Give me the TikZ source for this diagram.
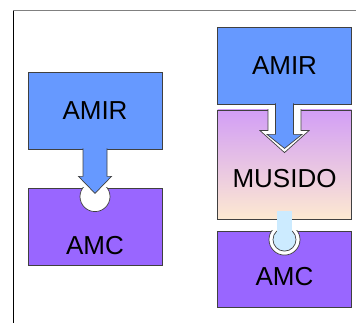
\documentclass[tikz,border=0pt]{standalone}
\usepackage{fontspec}
\setmainfont{Liberation Sans}
\usetikzlibrary{calc}

\definecolor{amirblue}{HTML}{6699FF}
\definecolor{amcpurple}{HTML}{9966FF}
\definecolor{musidotop}{HTML}{D29EF6}
\definecolor{musidobot}{HTML}{FDE9D1}
\definecolor{plugblue}{HTML}{CCEBFF}
\definecolor{edge}{HTML}{404040}

\begin{document}
\begin{tikzpicture}[x = 1pt, y = -1pt,
		block/.style = {draw = edge, line width = 0.8pt, minimum width = 134pt, inner sep = 0pt},
		tag/.style = {font = \fontsize{26}{26}\selectfont},
		shape line/.style = {draw = edge, line width = 0.7pt}]
			\useasboundingbox (0,0) rectangle (356,323);

			% frame
			\draw [gray, line width = 1pt] (13,11) -- (356,11);
			\draw [black, line width = 1pt] (13,11) -- (13,323);

			% left: AMIR straight onto AMC
			\node [block, fill = amirblue, minimum height = 77pt, tag] (amirL) at (95,110.5) {AMIR};
			\node [block, fill = amcpurple, minimum height = 77pt, label = {[tag, yshift = -19.5pt]center:AMC}] (amcL) at (95,226.5) {};

			\begin{scope}
				\clip (amcL.north west) rectangle (amcL.south east);
				\filldraw [fill = white, shape line] ($(amcL.north)+(0,9)$) circle (15pt);
			\end{scope}

			\begin{scope}[shift = {(amirL.south)}]
				\filldraw [fill = amirblue, shape line] (-12,-1) -- (-12,27) -- (-16.5,27) -- (0,44) -- (16.5,27) -- (12,27) -- (12,-1);
			\end{scope}

			% right: AMIR through MUSIDO onto AMC
			\node [block, fill = amirblue, minimum height = 77pt, tag] (amirR) at (284.5,65.5) {AMIR};
			\node [block, top color = musidotop, bottom color = musidobot, minimum height = 109pt, label = {[tag, yshift = -14.5pt]center:MUSIDO}] (musido) at (284.5,164.5) {};
			\node [block, fill = amcpurple, minimum height = 76pt, label = {[tag, yshift = -8pt]center:AMC}] (amcR) at (284.5,269) {};

			\begin{scope}[shift = {(musido.north)}]
				\filldraw [fill = white, shape line] (-16.5,-0.5) -- (-16.5,21) -- (-24.5,21) -- (0,43) -- (24.5,21) -- (16.5,21) -- (16.5,-0.5);
			\end{scope}

			\begin{scope}[shift = {(amirR.south)}]
				\filldraw [fill = amirblue, shape line] (-9,-1) -- (-9,30) -- (-17.5,30) -- (0,44) -- (17.5,30) -- (9,30) -- (9,-1);
			\end{scope}

			\begin{scope}
				\clip (amcR.north west) rectangle (amcR.south east);
				\filldraw [fill = white, shape line] ($(amcR.north)+(0,9)$) circle (15.5pt);
			\end{scope}

			\begin{scope}[shift = {(amcR.north)}]
				\filldraw [fill = plugblue, shape line] (0,9) circle (11.5pt);
				\fill [plugblue] (-7.5,-20) rectangle (7.5,4);
			\end{scope}
		\end{tikzpicture}
\end{document}
